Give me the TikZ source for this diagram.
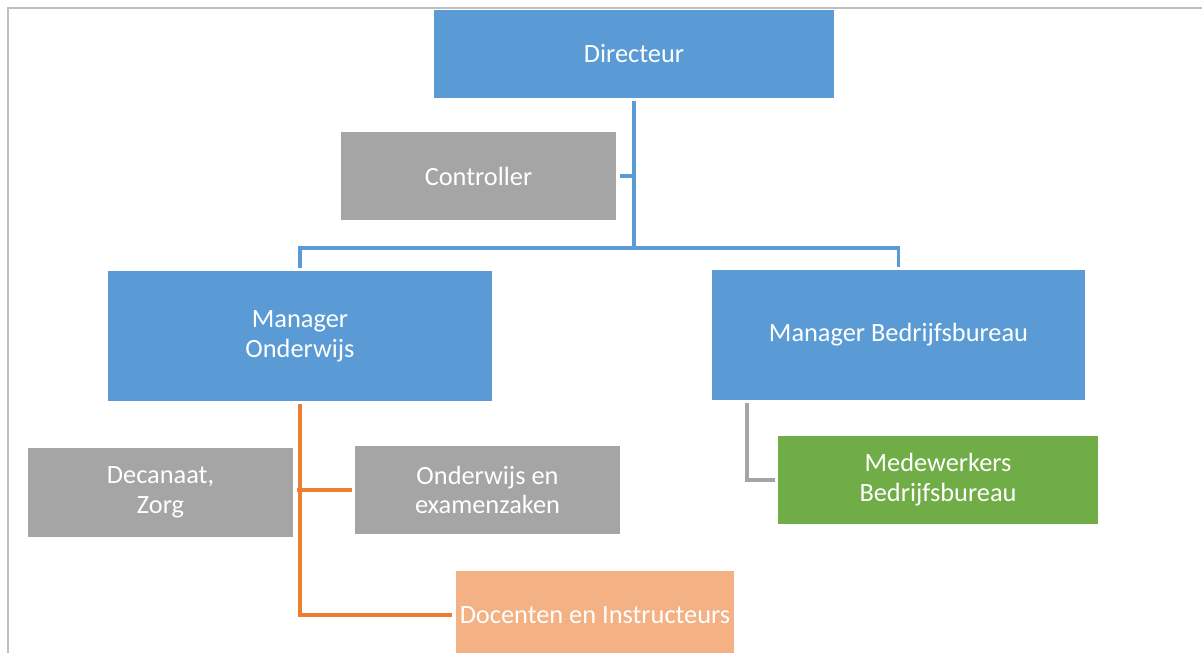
\documentclass[tikz,border=0pt]{standalone}
\usepackage{fontspec}
\setmainfont{Carlito}
\usetikzlibrary{positioning}
\usepackage{xcolor}
\definecolor{orgblue}{HTML}{5B9BD5}
\definecolor{orggray}{HTML}{A5A5A5}
\definecolor{orggreen}{HTML}{70AD47}
\definecolor{orgpeach}{HTML}{F4B183}
\definecolor{orgorange}{HTML}{ED7D31}
\definecolor{framegray}{HTML}{BFBFBF}

\begin{document}
\begin{tikzpicture}
                \tikzstyle{unit} = [shape=rectangle, text=white, align=center, inner sep=0pt, font=\fontsize{15}{17}\selectfont];
                \tikzstyle{link} = [line width=0.065cm];

                \clip (0,0) rectangle (24.04,-13.06);
                \draw[framegray, line width=0.04cm] (0.16,-13.2) -- (0.16,-0.16) -- (24.2,-0.16);

                \node[unit, fill=orgblue, minimum width=8cm, minimum height=1.76cm](D) at (12.68,-1.08) {Directeur};
                \node[unit, fill=orggray, minimum width=5.5cm, minimum height=1.76cm](C) at (9.57,-3.52) {Controller};
                \node[unit, fill=orgblue, minimum width=7.68cm, minimum height=2.6cm](MO) at (6.0,-6.72) {Manager\\Onderwijs};
                \node[unit, fill=orgblue, minimum width=7.46cm, minimum height=2.6cm](MB) at (17.97,-6.7) {Manager Bedrijfsbureau};
                \node[unit, fill=orggray, minimum width=5.3cm, minimum height=1.78cm](DZ) at (3.21,-9.85) {Decanaat,\\Zorg};
                \node[unit, fill=orggray, minimum width=5.3cm, minimum height=1.76cm](OE) at (9.75,-9.8) {Onderwijs en\\examenzaken};
                \node[unit, fill=orggreen, minimum width=6.4cm, minimum height=1.76cm](MW) at (18.76,-9.6) {Medewerkers\\Bedrijfsbureau};
                \node[unit, fill=orgpeach, minimum width=5.56cm, minimum height=1.76cm](DI) at (11.9,-12.3) {Docenten en Instructeurs};

                \coordinate (bus) at (12.68,-4.96);
                \coordinate (mbdrop) at (14.94,-8.06);

                \draw[link, orgblue, shorten <=0.06cm] (D.south) -- (bus);
                \draw[link, orgblue, shorten <=0.06cm, shorten >=0.06cm] (MO.north) |- (bus) -| (MB.north);
                \draw[link, orgblue, shorten <=0.08cm] (C.east) -- (C.east -| bus);

                \draw[link, orgorange, shorten <=0.06cm, shorten >=0.08cm] (MO.south) |- (DI.west);
                \draw[link, orgorange, shorten <=0.08cm, shorten >=0.06cm] (DZ.east |- OE.west) -- (OE.west);

                \draw[link, orggray, shorten >=0.06cm] (mbdrop) |- (MW.west);
            \end{tikzpicture}
\end{document}
